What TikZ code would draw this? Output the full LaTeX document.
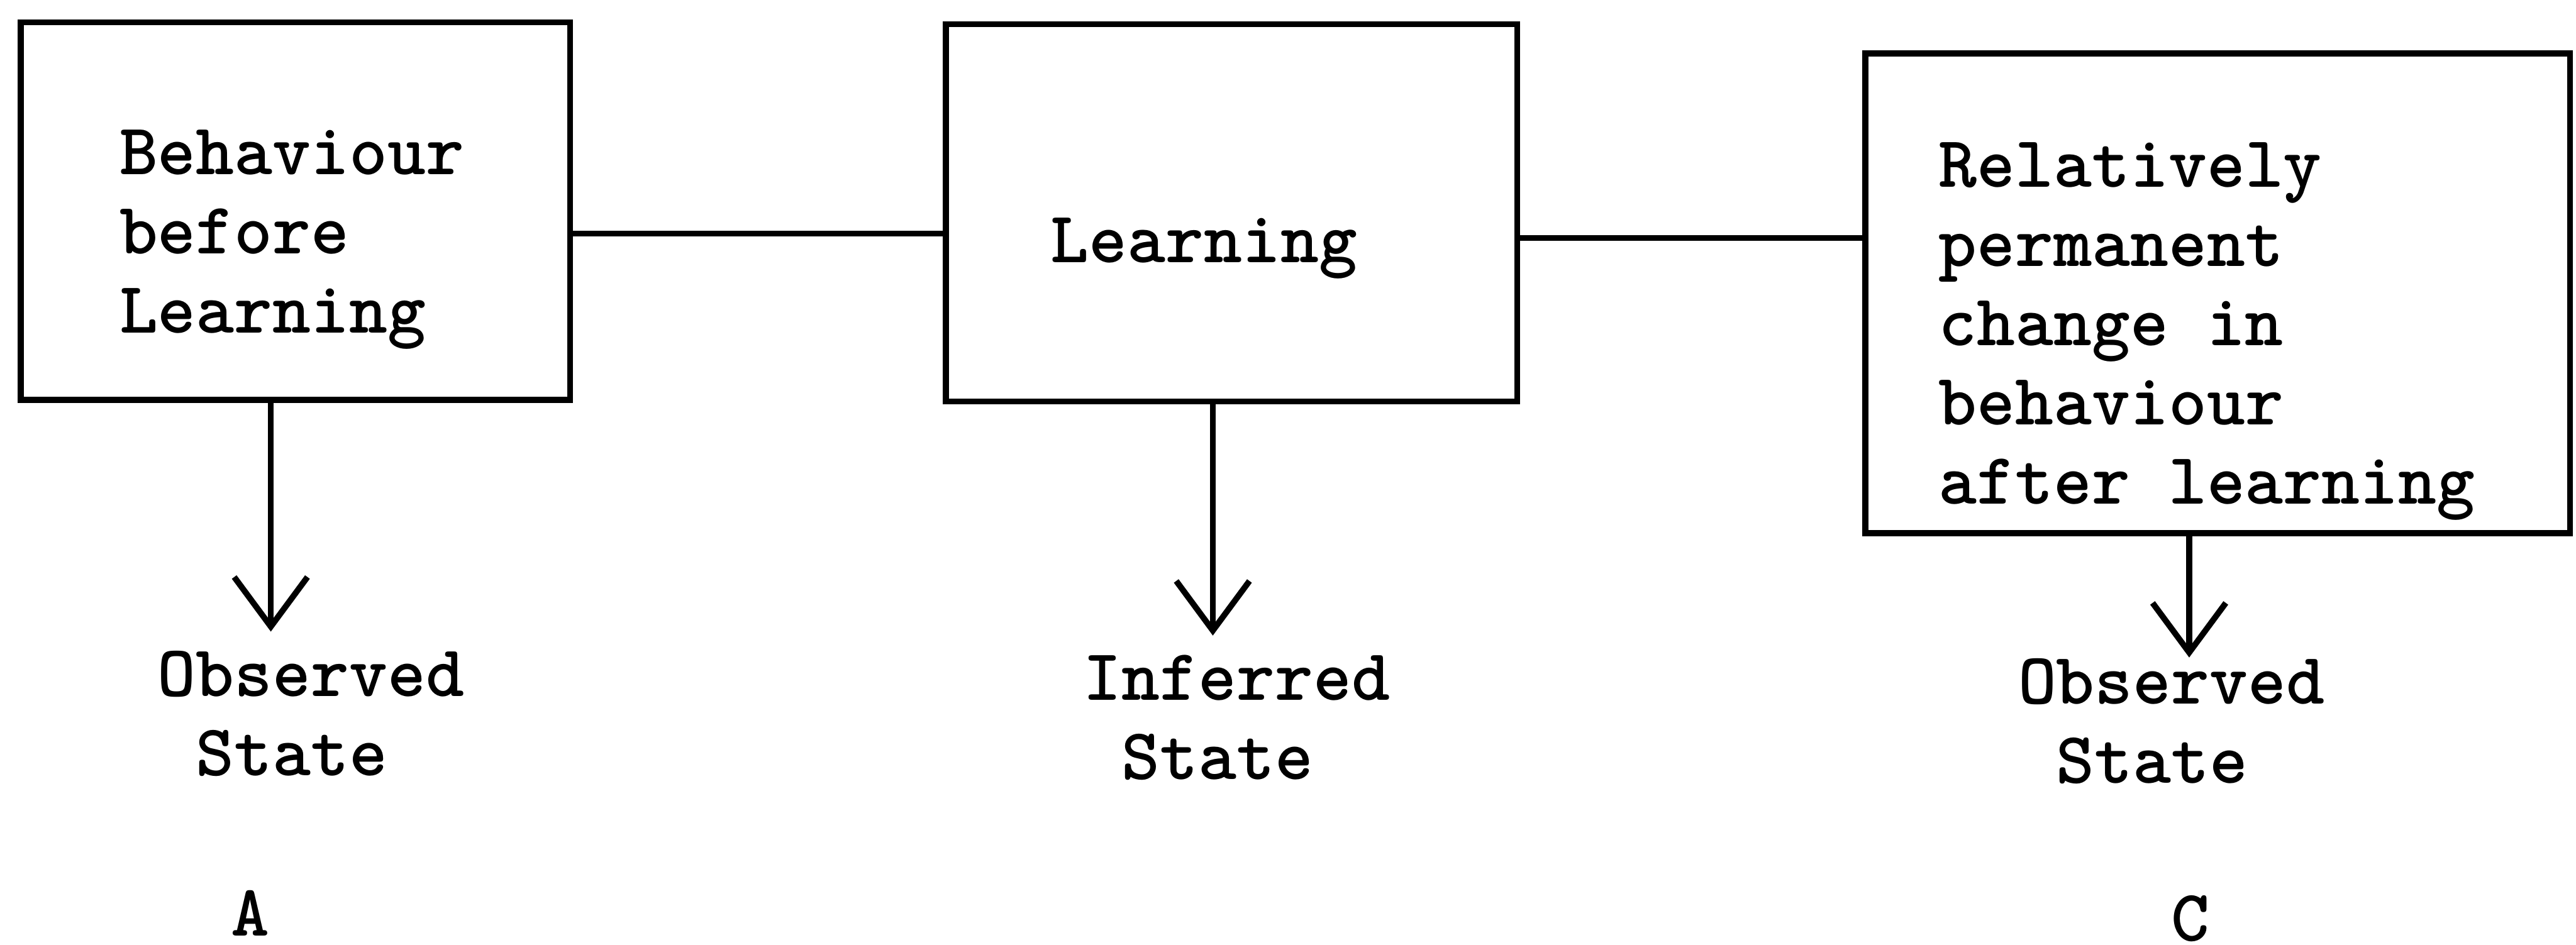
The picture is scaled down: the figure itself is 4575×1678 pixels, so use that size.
\documentclass[tikz,border=0pt]{standalone}
\usetikzlibrary{arrows.meta}
\begin{document}
\begin{tikzpicture}[x=0.01cm, y=-0.01cm,
  line width=3pt,
  blk/.style={draw, rectangle, inner sep=0pt},
  % multi-line texts are placed by the baseline of their last line
  txt/.style={inner sep=0pt, anchor=base west, align=left,
    font=\fontsize{36.85pt}{40pt}\selectfont\ttfamily\bfseries},
  arr/.style={-{Straight Barb[length=0.88cm, width=1.3cm]}}]
\useasboundingbox (0,0) rectangle (4575,1678);

% the three stages
\node[blk, minimum width=9.75cm, minimum height=6.70cm] (boxA) at (524.5,375) {};
\node[blk, minimum width=10.14cm, minimum height=6.70cm] (boxB) at (2187,378) {};
\node[blk, minimum width=12.51cm, minimum height=8.52cm] (boxC) at (3938.5,521) {};

\node[txt] (tA) at (207,591) {Behaviour\\before\\Learning};
\node[txt] (tB) at (1861,466) {Learning};
\node[txt] (tC) at (3438,895) {Relatively\\permanent\\change in\\behaviour\\after learning};

% links between the stages
\draw ([yshift=-0.40cm]boxA.east) -- ([yshift=-0.40cm]boxA.east -| boxB.west);
\draw ([yshift=-0.45cm]boxB.east) -- ([yshift=-0.45cm]boxB.east -| boxC.west);

% states below each stage
\coordinate (tipA) at (481,1122);
\coordinate (tipB) at (2154,1129);
\coordinate (tipC) at (3888,1168);
\draw[arr] (boxA.south -| tipA) -- (tipA);
\draw[arr] (boxB.south -| tipB) -- (tipB);
\draw[arr] (boxC.south -| tipC) -- (tipC);

\node[txt] (sA) at (275,1378) {Observed\\~State};
\node[txt] (sB) at (1919,1384) {Inferred\\~State};
\node[txt] (sC) at (3579,1391) {Observed\\~State};

\node[txt] (lA) at (405,1663) {A};
\node[txt] (lC) at (3851,1672) {C};
\end{tikzpicture}
\end{document}
